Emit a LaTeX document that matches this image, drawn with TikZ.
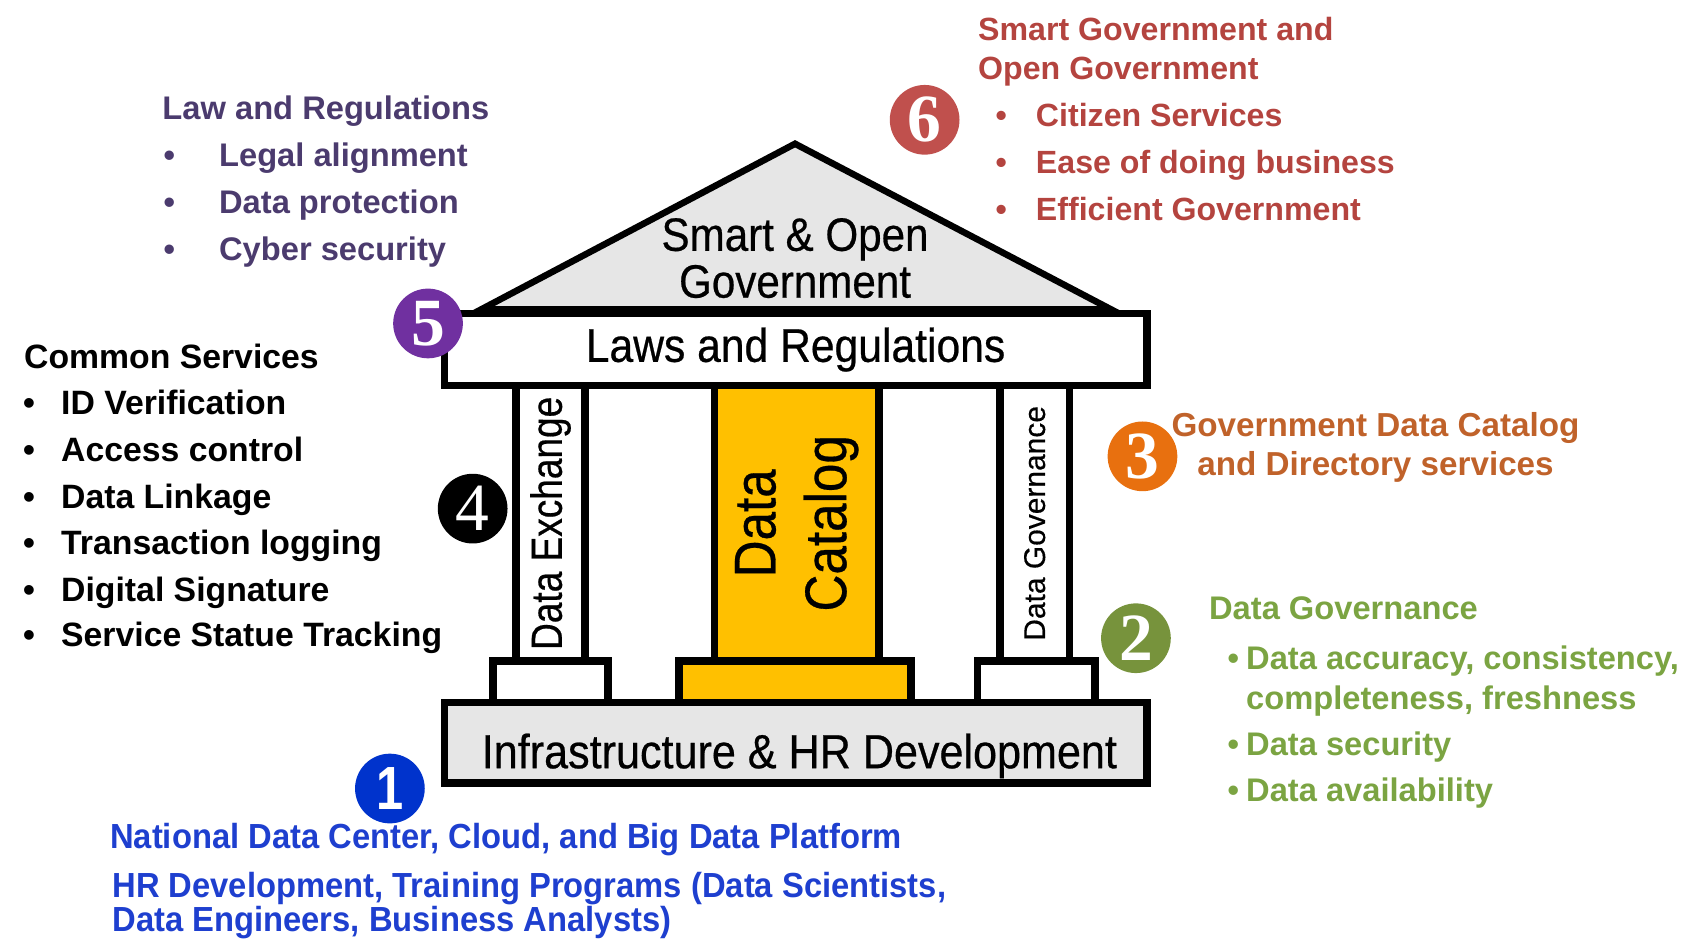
\documentclass[tikz,border=0pt]{standalone}
\usepackage{fontspec}
\setmainfont{Liberation Sans}
\newfontfamily\condfont[FakeStretch=0.9,FakeBold=0.5]{Liberation Sans}
\newfontfamily\colfont[FakeStretch=0.85,FakeBold=0.5]{Liberation Sans}
\newfontfamily\catfont[FakeStretch=0.87,FakeBold=0.5]{Liberation Sans}
\newfontfamily\govfont[FakeBold=0.4]{Liberation Sans}
\newfontfamily\numfont{Liberation Serif}
\newfontfamily\onefont[FakeStretch=0.8]{Liberation Sans}
\newfontfamily\bluefont[FakeStretch=0.94]{Liberation Sans}
\definecolor{cred}{HTML}{B4443F}
\definecolor{cpurple}{HTML}{4B3B6E}
\definecolor{corange}{HTML}{C0622A}
\definecolor{cgreen}{HTML}{7BA442}
\definecolor{cblue}{HTML}{1E3FCF}
\definecolor{gold}{HTML}{FFC000}
\definecolor{lgray}{HTML}{E6E6E6}
\definecolor{nred}{HTML}{C0504D}
\definecolor{npurple}{HTML}{7030A0}
\definecolor{norange}{HTML}{E8700F}
\definecolor{ngreen}{HTML}{77933C}
\definecolor{nblue}{HTML}{0033CC}
\begin{document}
\begin{tikzpicture}[x=1pt,y=-1pt,
  frame/.style={draw=black, line width=7pt, inner sep=0pt},
  lbl/.style={inner sep=0pt, align=center},
  num/.style={circle, inner sep=0pt, minimum size=64pt, text=white, font=\numfont\bfseries\fontsize{62}{62}\selectfont},
  sideR/.style={anchor=base west, inner sep=0pt, text=cred, font=\bfseries\fontsize{29.5}{35}\selectfont},
  sideP/.style={anchor=base west, inner sep=0pt, text=cpurple, font=\bfseries\fontsize{30}{36}\selectfont},
  sideK/.style={anchor=base west, inner sep=0pt, text=black, font=\bfseries\fontsize{31}{36}\selectfont},
  sideO/.style={anchor=base, inner sep=0pt, text=corange, font=\bfseries\fontsize{30.5}{36}\selectfont},
  sideG/.style={anchor=base west, inner sep=0pt, text=cgreen, font=\bfseries\fontsize{30}{36}\selectfont},
  sideB/.style={anchor=base west, inner sep=0pt, text=cblue, font=\bluefont\bfseries\fontsize{32}{36}\selectfont},
]
\useasboundingbox (0,0) rectangle (1560,862);

% roof
\coordinate (rl) at (442,284);
\coordinate (ra) at (730,132);
\coordinate (rr) at (1020,284);
\filldraw[fill=lgray, draw=black, line width=6pt] (rl) -- (ra) -- (rr) -- cycle;
\node[lbl, font=\condfont\fontsize{43}{43}\selectfont] (roof) at (730,237) {Smart \& Open\\Government};

% laws box
\node[frame, fill=white, minimum width=645pt, minimum height=66pt, font=\condfont\fontsize{43.5}{43}\selectfont] (laws) at (730.5,321) {Laws and Regulations};

% columns
\node[frame, fill=white, rotate=90, minimum width=253pt, minimum height=63pt, font=\colfont\fontsize{40}{40}\selectfont] (dx) at (505.5,480.5) {Data Exchange};
\node[frame, fill=gold, rotate=90, minimum width=253pt, minimum height=151pt, align=center, font=\catfont\fontsize{54}{65}\selectfont] (dc) at (731.5,480.5) {Data\\Catalog};
\node[frame, fill=white, rotate=90, minimum width=253pt, minimum height=64pt, font=\govfont\fontsize{27.5}{30}\selectfont] (dg) at (950,480.5) {Data Governance};

% plinths
\node[frame, fill=white, minimum width=106pt, minimum height=38pt] (pl) at (505.5,626) {};
\node[frame, fill=gold, minimum width=213pt, minimum height=38pt] (pc) at (730,626) {};
\node[frame, fill=white, minimum width=108pt, minimum height=38pt] (pr) at (951.5,626) {};

% base
\node[frame, fill=lgray, minimum width=645pt, minimum height=74pt] (base) at (730.5,682) {};
\node[lbl, font=\condfont\fontsize{44}{44}\selectfont] (basetxt) at (734,694) {Infrastructure \& HR Development};

% numbered circles
\node[num, fill=nred] (c6) at (849,110) {6};
\node[num, fill=npurple] (c5) at (393,297) {5};
\node[num, fill=black, font=\numfont\fontsize{62}{62}\selectfont] (c4) at (434,467) {4};
\node[num, fill=norange] (c3) at (1049,419) {3};
\node[num, fill=ngreen] (c2) at (1043,586) {2};
\node[num, fill=nblue, font=\onefont\bfseries\fontsize{56}{56}\selectfont] (c1) at (358,724) {1};

% red group
\node[sideR] (r1) at (898,37) {Smart Government and};
\node[sideR] (r2) at (898,73) {Open Government};
\node[sideR] (rb1) at (914,116) {•};
\node[sideR] (r3) at (951,116) {Citizen Services};
\node[sideR] (rb2) at (914,159) {•};
\node[sideR] (r4) at (951,159) {Ease of doing business};
\node[sideR] (rb3) at (914,202) {•};
\node[sideR] (r5) at (951,202) {Efficient Government};

% purple group
\node[sideP] (p1) at (149,110) {Law and Regulations};
\node[sideP] (pb1) at (150,153) {•};
\node[sideP] (p2) at (201,153) {Legal alignment};
\node[sideP] (pb2) at (150,196) {•};
\node[sideP] (p3) at (201,196) {Data protection};
\node[sideP] (pb3) at (150,239) {•};
\node[sideP] (p4) at (201,239) {Cyber security};

% black group
\node[sideK] (k0) at (22,338) {Common Services};
\node[sideK] (kb1) at (21,381) {•};
\node[sideK] (k1) at (56,381) {ID Verification};
\node[sideK] (kb2) at (21,424) {•};
\node[sideK] (k2) at (56,424) {Access control};
\node[sideK] (kb3) at (21,467) {•};
\node[sideK] (k3) at (56,467) {Data Linkage};
\node[sideK] (kb4) at (21,509) {•};
\node[sideK] (k4) at (56,509) {Transaction logging};
\node[sideK] (kb5) at (21,552) {•};
\node[sideK] (k5) at (56,552) {Digital Signature};
\node[sideK] (kb6) at (21,594) {•};
\node[sideK] (k6) at (56,594) {Service Statue Tracking};

% orange group
\node[sideO] (o1) at (1263,401) {Government Data Catalog};
\node[sideO] (o2) at (1263,437) {and Directory services};

% green group
\node[sideG] (g0) at (1110,569) {Data Governance};
\node[sideG] (gb1) at (1127,615) {•};
\node[sideG] (g1) at (1144,615) {Data accuracy, consistency,};
\node[sideG] (g2) at (1144,651) {completeness, freshness};
\node[sideG] (gb2) at (1127,694) {•};
\node[sideG] (g3) at (1144,694) {Data security};
\node[sideG] (gb3) at (1127,736) {•};
\node[sideG] (g4) at (1144,736) {Data availability};

% blue group
\node[sideB] (b1) at (101,779) {National Data Center, Cloud, and Big Data Platform};
\node[sideB] (b2) at (103,824) {HR Development, Training Programs (Data Scientists,};
\node[sideB] (b3) at (103,855) {Data Engineers, Business Analysts)};
\end{tikzpicture}
\end{document}
